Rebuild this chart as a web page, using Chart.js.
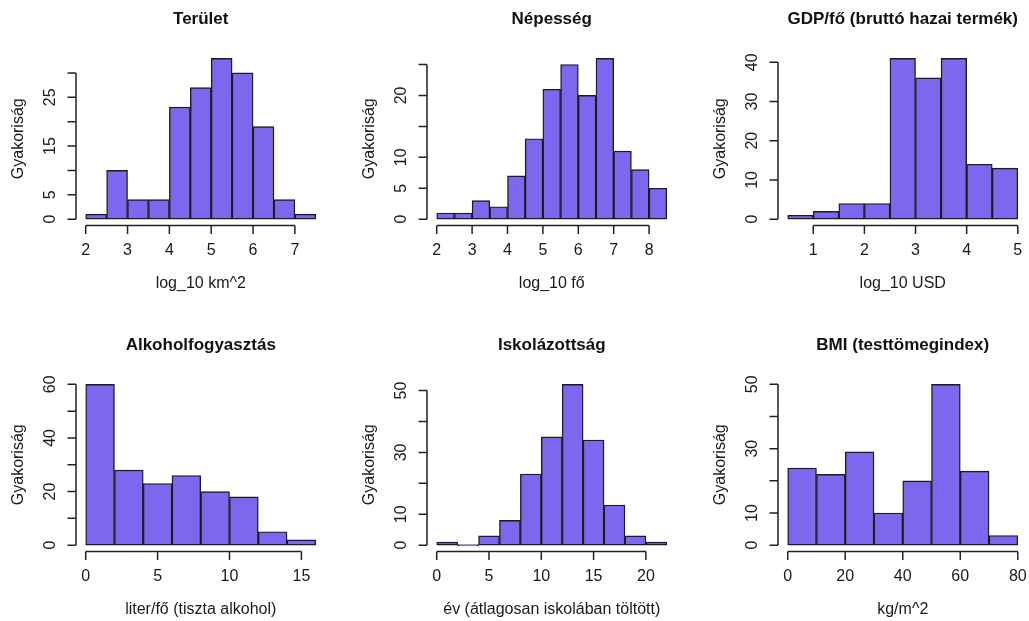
<!DOCTYPE html>
<html><head><meta charset="utf-8">
<script src="https://cdn.jsdelivr.net/npm/chart.js@4.4.1/dist/chart.umd.min.js"></script>
<style>
html,body{margin:0;padding:0;background:#fff;width:1029px;height:621px;overflow:hidden;}
#wrap{position:relative;width:1029px;height:621px;overflow:hidden;background:#fff;}
.panel{position:absolute;width:351px;height:326px;}
</style></head><body><div id="wrap">
<div class="panel" style="left:0px;top:0px"><canvas id="c0" width="351" height="326"></canvas></div>
<div class="panel" style="left:351px;top:0px"><canvas id="c1" width="351" height="326"></canvas></div>
<div class="panel" style="left:702px;top:0px"><canvas id="c2" width="351" height="326"></canvas></div>
<div class="panel" style="left:0px;top:326px"><canvas id="c3" width="351" height="326"></canvas></div>
<div class="panel" style="left:351px;top:326px"><canvas id="c4" width="351" height="326"></canvas></div>
<div class="panel" style="left:702px;top:326px"><canvas id="c5" width="351" height="326"></canvas></div>
</div>
<script>
// ---- Data ----
const yTitle = 'Gyakoriság';

// Terület
const teruletEdges = [2, 2.5, 3, 3.5, 4, 4.5, 5, 5.5, 6, 6.5, 7, 7.5];
const teruletCounts = [1, 10, 4, 4, 23, 27, 33, 30, 19, 4, 1];
const teruletXTicks = [2, 3, 4, 5, 6, 7];
const teruletYTicks = [0, 5, 10, 15, 20, 25, 30];
const teruletYLabels = ['0', '5', '', '15', '', '25', ''];

// Népesség
const nepessegEdges = [2, 2.5, 3, 3.5, 4, 4.5, 5, 5.5, 6, 6.5, 7, 7.5, 8, 8.5];
const nepessegCounts = [1, 1, 3, 2, 7, 13, 21, 25, 20, 26, 11, 8, 5];
const nepessegXTicks = [2, 3, 4, 5, 6, 7, 8];
const nepessegYTicks = [0, 5, 10, 15, 20, 25];
const nepessegYLabels = ['0', '5', '10', '', '20', ''];

// GDP/fő
const gdpEdges = [0.5, 1, 1.5, 2, 2.5, 3, 3.5, 4, 4.5, 5];
const gdpCounts = [1, 2, 4, 4, 41, 36, 41, 14, 13];
const gdpXTicks = [1, 2, 3, 4, 5];
const gdpYTicks = [0, 10, 20, 30, 40];
const gdpYLabels = ['0', '10', '20', '30', '40'];

// Alkoholfogyasztás
const alkoholEdges = [0, 2, 4, 6, 8, 10, 12, 14, 16];
const alkoholCounts = [60, 28, 23, 26, 20, 18, 5, 2];
const alkoholXTicks = [0, 5, 10, 15];
const alkoholYTicks = [0, 10, 20, 30, 40, 50, 60];
const alkoholYLabels = ['0', '', '20', '', '40', '', '60'];

// Iskolázottság
const iskolaEdges = [0, 2, 4, 6, 8, 10, 12, 14, 16, 18, 20, 22];
const iskolaCounts = [1, 0, 3, 8, 23, 35, 52, 34, 13, 3, 1];
const iskolaXTicks = [0, 5, 10, 15, 20];
const iskolaYTicks = [0, 10, 20, 30, 40, 50];
const iskolaYLabels = ['0', '10', '', '30', '', '50'];

// BMI
const bmiEdges = [0, 10, 20, 30, 40, 50, 60, 70, 80];
const bmiCounts = [24, 22, 29, 10, 20, 50, 23, 3];
const bmiXTicks = [0, 20, 40, 60, 80];
const bmiYTicks = [0, 10, 20, 30, 40, 50];
const bmiYLabels = ['0', '10', '', '30', '', '50'];

const panels = [
  {title: 'Terület', xTitle: 'log_10 km^2', edges: teruletEdges, counts: teruletCounts, xTicks: teruletXTicks, yTicks: teruletYTicks, yLabels: teruletYLabels},
  {title: 'Népesség', xTitle: 'log_10 fő', edges: nepessegEdges, counts: nepessegCounts, xTicks: nepessegXTicks, yTicks: nepessegYTicks, yLabels: nepessegYLabels},
  {title: 'GDP/fő (bruttó hazai termék)', xTitle: 'log_10 USD', edges: gdpEdges, counts: gdpCounts, xTicks: gdpXTicks, yTicks: gdpYTicks, yLabels: gdpYLabels},
  {title: 'Alkoholfogyasztás', xTitle: 'liter/fő (tiszta alkohol)', edges: alkoholEdges, counts: alkoholCounts, xTicks: alkoholXTicks, yTicks: alkoholYTicks, yLabels: alkoholYLabels},
  {title: 'Iskolázottság', xTitle: 'év (átlagosan iskolában töltött)', edges: iskolaEdges, counts: iskolaCounts, xTicks: iskolaXTicks, yTicks: iskolaYTicks, yLabels: iskolaYLabels},
  {title: 'BMI (testtömegindex)', xTitle: 'kg/m^2', edges: bmiEdges, counts: bmiCounts, xTicks: bmiXTicks, yTicks: bmiYTicks, yLabels: bmiYLabels}
];

// ---- Styles ----
const FONT = '"Liberation Sans", Arial, sans-serif';
const AXIS_COLOR = '#222';
const TEXT_COLOR = '#1a1a1a';
const BAR_FILL = '#7B68EE';
const BAR_EDGE = '#1c1c1c';

// R-style axes: lines only between first and last tick, rotated y labels
const rAxes = {
  id: 'rAxes',
  afterDraw(chart, args, o) {
    const {ctx, chartArea: a, scales: {x, y}} = chart;
    const TL = 8.5;
    ctx.save();
    ctx.strokeStyle = AXIS_COLOR;
    ctx.fillStyle = TEXT_COLOR;
    ctx.lineWidth = 1.5;
    ctx.font = '16px ' + FONT;
    // y axis
    const x0 = a.left - 0.5;
    const yp = o.yTicks.map(v => y.getPixelForValue(v));
    ctx.beginPath();
    ctx.moveTo(x0, yp[0]); ctx.lineTo(x0, yp[yp.length - 1]);
    yp.forEach(p => { ctx.moveTo(x0, p); ctx.lineTo(x0 - TL, p); });
    ctx.stroke();
    ctx.textAlign = 'center'; ctx.textBaseline = 'middle';
    yp.forEach((p, i) => {
      if (!o.yLabels[i]) return;
      ctx.save(); ctx.translate(x0 - 25, p); ctx.rotate(-Math.PI / 2);
      ctx.fillText(o.yLabels[i], 0, 0); ctx.restore();
    });
    // x axis
    const y0 = a.bottom;
    const xp = o.xTicks.map(v => x.getPixelForValue(v));
    ctx.beginPath();
    ctx.moveTo(xp[0], y0); ctx.lineTo(xp[xp.length - 1], y0);
    xp.forEach(p => { ctx.moveTo(p, y0); ctx.lineTo(p, y0 + TL); });
    ctx.stroke();
    xp.forEach((p, i) => ctx.fillText(String(o.xTicks[i]), p, y0 + 24.5));
    // axis titles
    ctx.fillText(o.xTitle, (a.left + a.right) / 2, y0 + 57.5);
    ctx.save(); ctx.translate(x0 - 57, (a.top + a.bottom) / 2); ctx.rotate(-Math.PI / 2);
    ctx.fillText(o.yTitle, 0, 0); ctx.restore();
    ctx.restore();
  }
};

panels.forEach((p, idx) => {
  const e0 = p.edges[0], eN = p.edges[p.edges.length - 1];
  const xr = eN - e0;
  const ymax = Math.max(...p.counts);
  const data = p.counts.map((c, i) => ({x: (p.edges[i] + p.edges[i + 1]) / 2, y: c}));
  new Chart(document.getElementById('c' + idx), {
    type: 'bar',
    data: {datasets: [{
      data: data,
      backgroundColor: BAR_FILL,
      borderColor: BAR_EDGE,
      borderWidth: 1.4,
      borderSkipped: false,
      minBarLength: 1.4,
      barPercentage: 1,
      categoryPercentage: 1
    }]},
    options: {
      responsive: false,
      animation: false,
      events: [],
      layout: {padding: {left: 76.5, right: 26, top: 0, bottom: 100.4}},
      scales: {
        x: {type: 'linear', display: false, offset: false, min: e0 - 0.04 * xr, max: eN + 0.04 * xr},
        y: {type: 'linear', display: false, min: -0.04 * ymax, max: 1.04 * ymax}
      },
      plugins: {
        legend: {display: false},
        tooltip: {enabled: false},
        title: {
          display: true, text: p.title, color: '#111',
          font: {family: FONT, size: 17, weight: 'bold', lineHeight: 1.2},
          padding: {top: 9.5, bottom: 22}
        },
        rAxes: {xTicks: p.xTicks, yTicks: p.yTicks, yLabels: p.yLabels, xTitle: p.xTitle, yTitle: yTitle}
      }
    },
    plugins: [rAxes]
  });
});
</script>
</body></html>
